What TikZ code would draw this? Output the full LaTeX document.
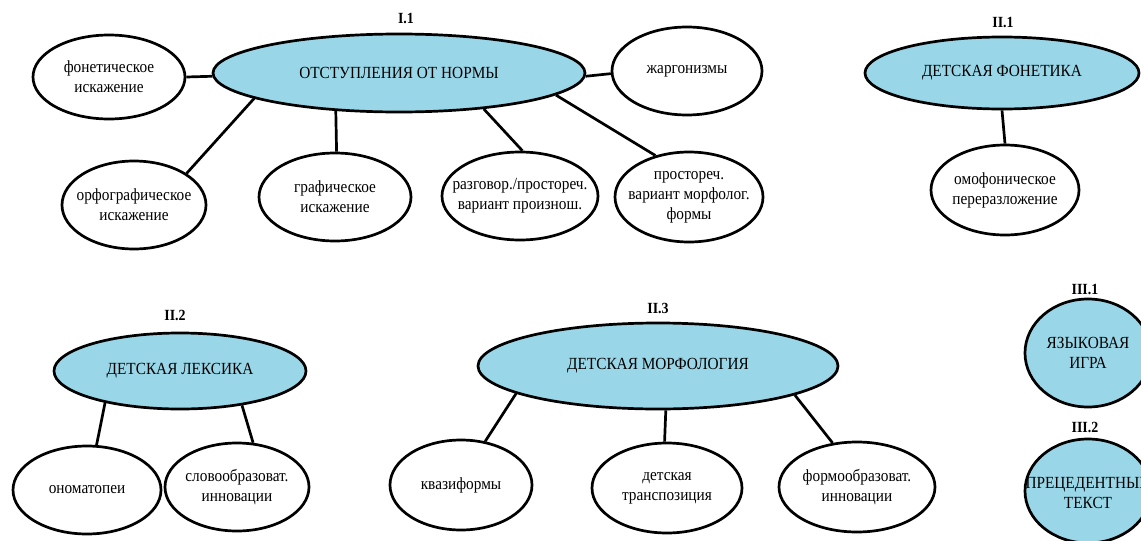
\documentclass[tikz,border=0pt]{standalone}
\usepackage{fontspec}
\setmainfont{Liberation Serif}[FakeStretch=0.9]
\usetikzlibrary{shapes.geometric}
\definecolor{lblue}{RGB}{153,215,232}
\tikzset{
  el/.style={ellipse, draw=black, line width=2.7pt, inner sep=0pt},
  main/.style={el, fill=lblue},
  leaf/.style={el, fill=white},
  txt/.style={align=center, inner sep=0pt, font=\fontsize{17}{20}\selectfont, text=black},
  lab/.style={font=\fontsize{15.5}{16}\selectfont\bfseries},
  con/.style={line width=2.7pt},
}
\begin{document}
\begin{tikzpicture}[x=1pt,y=-1pt]
\useasboundingbox (0,0) rectangle (1141,541);
\clip (0,0) rectangle (1141,541);
% I.1
\node[lab] (l11) at (406,18) {I.1};
\node[main, minimum width=372pt, minimum height=78pt, label={[txt]center:ОТСТУПЛЕНИЯ ОТ НОРМЫ}] (m1) at (399,73) {};
\node[leaf, minimum width=152pt, minimum height=84pt, label={[txt]center:фонетическое\\искажение}] (a1) at (109,77) {};
\node[leaf, minimum width=150pt, minimum height=88pt, label={[txt]center:жаргонизмы}] (a2) at (687,71) {};
\node[leaf, minimum width=144pt, minimum height=88pt, label={[txt]center:орфографическое\\искажение}] (a3) at (134,205) {};
\node[leaf, minimum width=152pt, minimum height=88pt, label={[txt]center:графическое\\искажение}] (a4) at (335,197) {};
\node[leaf, minimum width=156pt, minimum height=88pt, label={[txt]center:разговор./простореч.\\вариант произнош.}] (a5) at (520,196) {};
\node[leaf, minimum width=148pt, minimum height=90pt, label={[txt]center:простореч.\\вариант морфолог.\\формы}] (a6) at (689,197) {};
\draw[con] (m1.181) -- (a1.0);
\draw[con] (m1.-1) -- (a2.182);
\draw[con] (m1.190) -- (a3.31);
\draw[con] (m1.211) -- (a4.88);
\draw[con] (m1.337) -- (a5.87);
\draw[con] (m1.352) -- (a6.129);
% II.1
\node[lab] (l21) at (1003,22) {II.1};
\node[main, minimum width=274pt, minimum height=72pt, label={[txt]center:ДЕТСКАЯ ФОНЕТИКА}] (m2) at (1002,73) {};
\node[leaf, minimum width=148pt, minimum height=90pt, label={[txt]center:омофоническое\\переразложение}] (b1) at (1005,190) {};
\draw[con] (m2.270) -- (b1.90);
% II.2
\node[lab] (l22) at (175,315) {II.2};
\node[main, minimum width=252pt, minimum height=76pt, label={[txt]center:ДЕТСКАЯ ЛЕКСИКА}] (m3) at (180,371) {};
\node[leaf, minimum width=148pt, minimum height=88pt, label={[txt]center:ономатопеи}] (c1) at (87,490) {};
\node[leaf, minimum width=144pt, minimum height=88pt, label={[txt]center:словообразоват.\\инновации}] (c2) at (237,487) {};
\draw[con] (m3.203) -- (c1.78);
\draw[con] (m3.331) -- (c2.70);
% II.3
\node[lab] (l23) at (658,308) {II.3};
\node[main, minimum width=360pt, minimum height=86pt, label={[txt]center:ДЕТСКАЯ МОРФОЛОГИЯ}] (m4) at (658,366) {};
\node[leaf, minimum width=142pt, minimum height=90pt, label={[txt]center:квазиформы}] (d1) at (461,485) {};
\node[leaf, minimum width=150pt, minimum height=90pt, label={[txt]center:детская\\транспозиция}] (d2) at (667,488) {};
\node[leaf, minimum width=156pt, minimum height=90pt, label={[txt]center:формообразоват.\\инновации}] (d3) at (857,487) {};
\draw[con] (m4.191) -- (d1.61);
\draw[con] (m4.280) -- (d2.93);
\draw[con] (m4.348) -- (d3.119);
% III
\node[lab] (l31) at (1085,289) {III.1};
\node[main, minimum width=126pt, minimum height=108pt, label={[txt]center:ЯЗЫКОВАЯ\\ИГРА}] (e1) at (1088,353) {};
\node[lab] (l32) at (1085,427) {III.2};
\node[main, minimum width=126pt, minimum height=104pt, label={[txt]center:ПРЕЦЕДЕНТНЫЙ\\ТЕКСТ}] (e2) at (1088,491) {};
\end{tikzpicture}
\end{document}
